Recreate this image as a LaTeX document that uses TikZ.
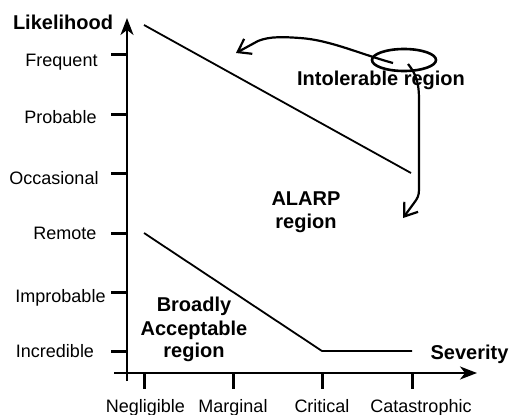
\documentclass[tikz,border=0pt]{standalone}
\usepackage{fontspec}
\setmainfont{Liberation Sans}
\usetikzlibrary{arrows.meta,shapes.geometric}
\begin{document}
\begin{tikzpicture}[x=1pt,y=-1pt,
  lab/.style={inner sep=0pt,anchor=base,font=\fontsize{18}{21}\selectfont},
  blab/.style={inner sep=0pt,anchor=base,font=\fontsize{20}{23}\selectfont\bfseries,align=center},
  axis/.style={line width=1.8pt,-{Stealth[length=17pt,width=13pt,inset=5pt]}},
  tick/.style={line width=3pt},
  region/.style={line width=1.8pt},
  curvy/.style={line width=2.2pt,-{Straight Barb[length=12pt,width=17pt]}}]
\useasboundingbox (0,0) rectangle (512,415);
% axes
\coordinate (yb) at (127,381);
\coordinate (yt) at (127,18);
\coordinate (xl) at (114,373);
\coordinate (xr) at (477,373);
\draw[axis] (yb) -- (yt);
\draw[axis] (xl) -- (xr);
% y ticks
\foreach \n/\y in {fr/54,pr/114,oc/173,re/233,im/292,in/351}{
  \coordinate (ty\n) at (111,\y);
  \coordinate (ay\n) at (127,\y);
  \draw[tick] (ty\n) -- (ay\n);
}
% x ticks
\foreach \n/\x in {ne/144,ma/233,cr/322,ca/412}{
  \coordinate (ax\n) at (\x,373);
  \coordinate (tx\n) at (\x,389);
  \draw[tick] (ax\n) -- (tx\n);
}
% y labels
\node[lab] (lfr) at (61.5,66.5) {Frequent};
\node[lab] (lpr) at (60.5,123) {Probable};
\node[lab] (loc) at (54,184) {Occasional};
\node[lab] (lre) at (65,239) {Remote};
\node[lab] (lim) at (60.5,302) {Improbable};
\node[lab] (lin) at (55,357) {Incredible};
% x labels
\node[lab] (lne) at (145.5,412) {Negligible};
\node[lab] (lma) at (233,412) {Marginal};
\node[lab] (lcr) at (322,412) {Critical};
\node[lab] (lca) at (421,412) {Catastrophic};
% axis titles
\node[blab] (likelihood) at (63,29.5) {Likelihood};
\node[blab] (severity) at (469.5,359) {Severity};
% region lines
\coordinate (u1) at (144,25);
\coordinate (u2) at (411,173);
\draw[region] (u1) -- (u2);
\coordinate (l1) at (144,233);
\coordinate (l2) at (322,351);
\coordinate (l3) at (412,351);
\draw[region] (l1) -- (l2) -- (l3);
% region labels
\node[blab] (intol) at (381,85) {Intolerable region};
\node[blab] (alarp1) at (306,205) {ALARP};
\node[blab] (alarp2) at (306,228) {region};
\node[blab] (ba1) at (194,311) {Broadly};
\node[blab] (ba2) at (194,335) {Acceptable};
\node[blab] (ba3) at (194,357) {region};
% ellipse and arrows
\node[draw,ellipse,line width=2.6pt,minimum width=64pt,minimum height=22pt,inner sep=0pt] (ell) at (404,60) {};
\coordinate (s1) at (393,63);
\coordinate (e1) at (236,53);
\coordinate (s2) at (408,64);
\coordinate (e2) at (403,218);
\draw[curvy] (s1) .. controls (360,54) and (330,40) .. (300,38)
  .. controls (285,37) and (270,36) .. (258,41) -- (e1);
\draw[curvy] (s2) .. controls (416,74) and (419,82) .. (419,100) -- (419,190)
  .. controls (419,196) and (417,199) .. (414,203) -- (e2);
\end{tikzpicture}
\end{document}
